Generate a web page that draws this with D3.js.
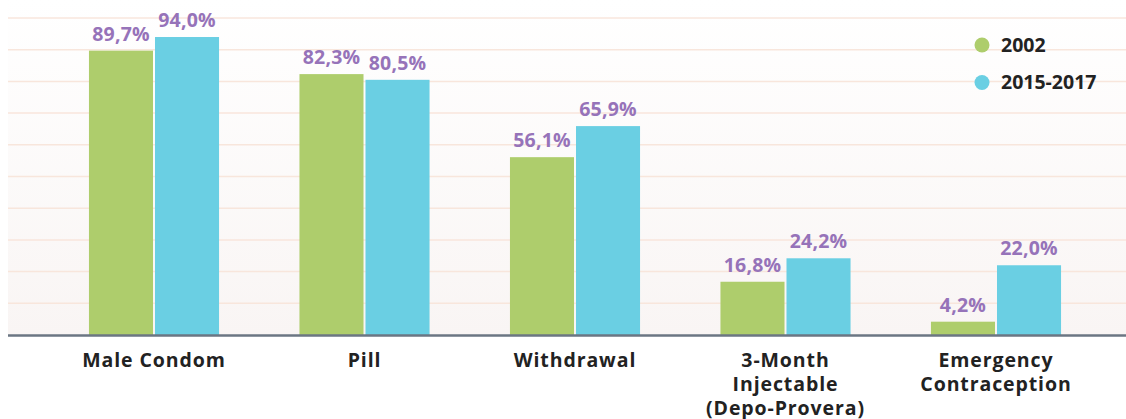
<!DOCTYPE html>
<html lang="en">
<head>
    <meta charset="UTF-8">
    <title>Contraceptive methods ever used</title>
    <script src="https://d3js.org/d3.v7.min.js"></script>
    <style>
        body {
            margin: 0;
            background-color: #ffffff;
            font-family: 'Open Sans', Lato, Arial, sans-serif;
        }
        .value-label {
            font-size: 19.5px;
            font-weight: bold;
            fill: #9673b9;
            letter-spacing: 0.2px;
        }
        .cat-label {
            font-size: 19.5px;
            font-weight: bold;
            fill: #222222;
            letter-spacing: 0.9px;
        }
        .legend-label {
            font-size: 19.5px;
            font-weight: bold;
            fill: #222222;
        }
    </style>
</head>
<body>
    <div id="chart"></div>

    <script>
        // Data
        const categories = ["Male Condom", "Pill", "Withdrawal", "3-Month Injectable (Depo-Provera)", "Emergency Contraception"];
        const categoryLines = [["Male Condom"], ["Pill"], ["Withdrawal"], ["3-Month", "Injectable", "(Depo-Provera)"], ["Emergency", "Contraception"]];
        const seriesNames = ["2002", "2015-2017"];
        const values2002 = [89.7, 82.3, 56.1, 16.8, 4.2];
        const values2015 = [94.0, 80.5, 65.9, 24.2, 22.0];
        const gridTicks = [10, 20, 30, 40, 50, 60, 70, 80, 90, 100];

        const colors = ["#aecd6c", "#6acfe3"];

        const W = 1126, H = 419;
        const plotLeft = 8, plotRight = 1126, plotTop = 18, plotBottom = 335;

        const svg = d3.select("#chart")
            .append("svg")
            .attr("width", W)
            .attr("height", H);

        // background gradient
        const defs = svg.append("defs");
        const grad = defs.append("linearGradient")
            .attr("id", "bg")
            .attr("x1", 0).attr("y1", 0)
            .attr("x2", 0).attr("y2", 1);
        grad.append("stop").attr("offset", "0%").attr("stop-color", "#ffffff");
        grad.append("stop").attr("offset", "100%").attr("stop-color", "#f9f5f4");

        svg.append("rect")
            .attr("x", plotLeft)
            .attr("y", 0)
            .attr("width", plotRight - plotLeft)
            .attr("height", plotBottom)
            .attr("fill", "url(#bg)");

        // scales
        const x = d3.scaleBand()
            .domain(categories)
            .range([48.75, 1101.25])
            .paddingInner(0.382)
            .paddingOuter(0.191);

        const xs = d3.scaleBand()
            .domain(seriesNames)
            .range([0, x.bandwidth()])
            .paddingInner(0.03);

        const y = d3.scaleLinear()
            .domain([0, 100])
            .range([plotBottom, plotTop]);

        // gridlines
        svg.append("g")
            .selectAll("line")
            .data(gridTicks)
            .enter()
            .append("line")
            .attr("x1", plotLeft)
            .attr("x2", plotRight)
            .attr("y1", d => y(d))
            .attr("y2", d => y(d))
            .attr("stroke", "#f8e6dc")
            .attr("stroke-width", 1.5);

        // bars
        const rows = categories.map((c, i) => ({
            cat: c,
            vals: [
                { s: seriesNames[0], v: values2002[i], color: colors[0] },
                { s: seriesNames[1], v: values2015[i], color: colors[1] }
            ]
        }));

        const groups = svg.selectAll(".group")
            .data(rows)
            .enter()
            .append("g")
            .attr("class", "group")
            .attr("transform", d => `translate(${x(d.cat)},0)`);

        groups.selectAll("rect")
            .data(d => d.vals)
            .enter()
            .append("rect")
            .attr("x", d => xs(d.s))
            .attr("y", d => y(d.v))
            .attr("width", xs.bandwidth())
            .attr("height", d => y(0) - y(d.v))
            .attr("fill", d => d.color);

        groups.selectAll(".value-label")
            .data(d => d.vals)
            .enter()
            .append("text")
            .attr("class", "value-label")
            .attr("x", d => xs(d.s) + xs.bandwidth() / 2)
            .attr("y", d => y(d.v) - 10)
            .attr("text-anchor", "middle")
            .text(d => d.v.toFixed(1).replace(".", ",") + "%");

        // baseline
        svg.append("line")
            .attr("x1", plotLeft)
            .attr("x2", plotRight)
            .attr("y1", plotBottom + 0.5)
            .attr("y2", plotBottom + 0.5)
            .attr("stroke", "#6b7683")
            .attr("stroke-width", 2.5);

        // category labels
        svg.selectAll(".cat-label")
            .data(categories)
            .enter()
            .append("text")
            .attr("class", "cat-label")
            .attr("text-anchor", "middle")
            .attr("y", 367)
            .each(function(d, i) {
                const t = d3.select(this);
                const cx = x(d) + x.bandwidth() / 2;
                categoryLines[i].forEach((line, j) => {
                    t.append("tspan")
                        .attr("x", cx)
                        .attr("dy", j === 0 ? 0 : 24)
                        .text(line);
                });
            });

        // legend
        const legend = svg.append("g")
            .selectAll("g")
            .data(seriesNames)
            .enter()
            .append("g")
            .attr("transform", (d, i) => `translate(982, ${45 + i * 37.5})`);

        legend.append("circle")
            .attr("r", 7.5)
            .attr("fill", (d, i) => colors[i]);

        legend.append("text")
            .attr("class", "legend-label")
            .attr("x", 19)
            .attr("y", 6.5)
            .text(d => d);
    </script>
</body>
</html>
